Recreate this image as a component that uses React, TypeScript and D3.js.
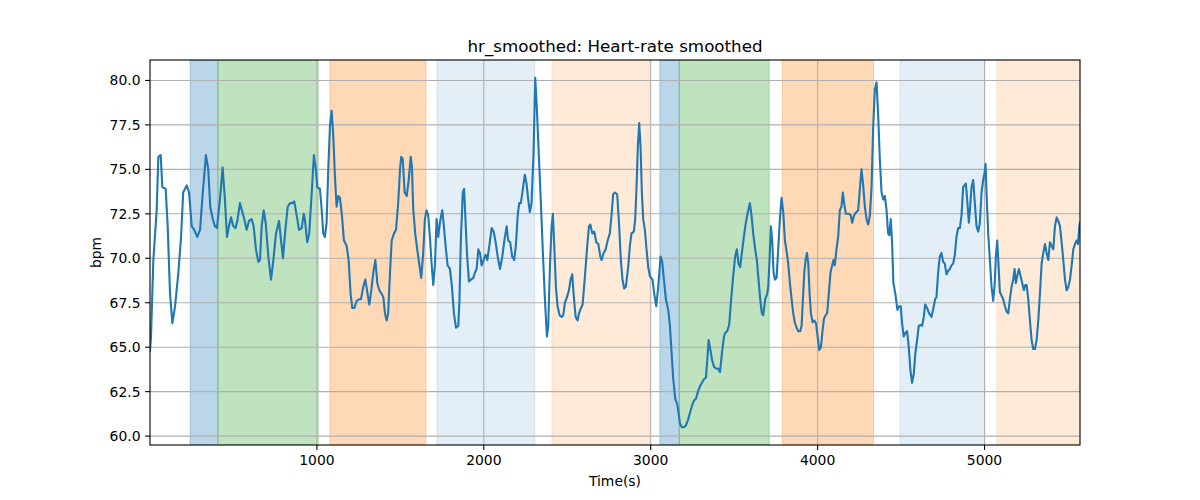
import * as d3 from 'd3'
import React from 'react'

// heart-rate samples (seconds, bpm)
const times = [
  0, 6, 20, 40, 50, 64, 74, 94, 106, 120, 134, 150, 170, 186, 199, 220, 234, 250, 265, 283,
  300, 313, 335, 349, 361, 376, 389, 401, 419, 435, 449, 461, 473, 485, 499, 513, 525, 539, 553, 565,
  579, 593, 609, 621, 635, 649, 659, 669, 681, 693, 709, 725, 739, 755, 773, 785, 797, 809, 825, 839,
  852, 864, 879, 893, 909, 921, 928, 942, 954, 969, 982, 994, 1002, 1018, 1028, 1038, 1048, 1058, 1068, 1078,
  1088, 1098, 1108, 1118, 1128, 1138, 1150, 1162, 1178, 1190, 1202, 1212, 1224, 1238, 1254, 1264, 1278, 1290, 1302, 1314,
  1326, 1338, 1350, 1362, 1374, 1388, 1398, 1408, 1418, 1427, 1438, 1448, 1462, 1474, 1487, 1498, 1505, 1514, 1526, 1538,
  1550, 1562, 1569, 1577, 1589, 1601, 1613, 1625, 1637, 1647, 1657, 1667, 1677, 1687, 1697, 1707, 1717, 1727, 1737, 1751,
  1761, 1771, 1783, 1797, 1809, 1821, 1833, 1847, 1854, 1862, 1874, 1882, 1890, 1899, 1911, 1923, 1937, 1947, 1957, 1967,
  1977, 1987, 1999, 2011, 2021, 2033, 2047, 2059, 2071, 2083, 2097, 2111, 2123, 2137, 2146, 2158, 2170, 2182, 2192, 2203,
  2212, 2222, 2234, 2246, 2256, 2266, 2276, 2286, 2298, 2308, 2318, 2330, 2342, 2354, 2366, 2378, 2386, 2396, 2406, 2414,
  2422, 2432, 2442, 2454, 2466, 2476, 2486, 2498, 2510, 2520, 2530, 2538, 2550, 2562, 2570, 2582, 2592, 2606, 2618, 2630,
  2638, 2650, 2662, 2674, 2686, 2698, 2706, 2718, 2730, 2742, 2755, 2766, 2775, 2785, 2799, 2811, 2821, 2831, 2841, 2851,
  2865, 2875, 2885, 2899, 2907, 2915, 2923, 2931, 2939, 2947, 2955, 2965, 2975, 2985, 2995, 3011, 3021, 3033, 3045, 3059,
  3069, 3079, 3091, 3105, 3115, 3125, 3135, 3147, 3159, 3167, 3175, 3187, 3199, 3211, 3223, 3235, 3247, 3259, 3271, 3283,
  3295, 3307, 3319, 3331, 3339, 3347, 3355, 3367, 3379, 3391, 3403, 3415, 3427, 3439, 3446, 3458, 3470, 3482, 3494, 3506,
  3516, 3526, 3536, 3546, 3558, 3570, 3582, 3594, 3604, 3614, 3626, 3636, 3646, 3656, 3666, 3674, 3686, 3698, 3704, 3712,
  3720, 3728, 3736, 3744, 3754, 3764, 3774, 3784, 3794, 3804, 3814, 3824, 3834, 3844, 3854, 3864, 3874, 3884, 3896, 3904,
  3912, 3920, 3928, 3936, 3944, 3952, 3960, 3970, 3980, 3990, 4000, 4010, 4020, 4028, 4038, 4048, 4057, 4067, 4077, 4087,
  4095, 4103, 4113, 4123, 4133, 4143, 4151, 4159, 4169, 4179, 4189, 4199, 4207, 4215, 4223, 4233, 4243, 4253, 4263, 4273,
  4283, 4293, 4303, 4313, 4323, 4333, 4343, 4353, 4363, 4373, 4383, 4393, 4403, 4413, 4422, 4430, 4438, 4446, 4454, 4466,
  4478, 4488, 4498, 4506, 4516, 4526, 4536, 4546, 4556, 4566, 4576, 4586, 4596, 4606, 4616, 4626, 4636, 4644, 4656, 4668,
  4682, 4694, 4704, 4712, 4722, 4732, 4742, 4752, 4762, 4772, 4782, 4792, 4802, 4812, 4822, 4832, 4842, 4852, 4862, 4872,
  4880, 4888, 4896, 4906, 4914, 4922, 4932, 4942, 4952, 4962, 4972, 4982, 4992, 5000, 5006, 5012, 5022, 5032, 5042, 5052,
  5060, 5068, 5076, 5084, 5092, 5102, 5112, 5122, 5132, 5142, 5152, 5162, 5172, 5180, 5188, 5196, 5206, 5216, 5226, 5236,
  5244, 5252, 5262, 5272, 5282, 5292, 5302, 5312, 5322, 5332, 5342, 5352, 5362, 5372, 5382, 5392, 5402, 5412, 5422, 5432,
  5442, 5452, 5462, 5472, 5482, 5492, 5502, 5512, 5522, 5532, 5542, 5552, 5560, 5568, 5572,
]
const hr = [
  64.8, 65.6, 69.9, 72.7, 75.7, 75.8, 74.0, 73.9, 71.8, 68.0, 66.35, 67.3, 69.2, 71.2, 73.7, 74.1, 73.7, 71.8, 71.6, 71.2,
  71.6, 73.3, 75.8, 75.0, 72.9, 72.2, 71.8, 71.7, 73.3, 75.1, 73.3, 71.2, 71.8, 72.3, 71.8, 71.7, 72.2, 73.1, 72.6, 72.2,
  71.6, 72.1, 72.2, 71.8, 70.5, 69.8, 69.9, 71.8, 72.7, 72.0, 70.1, 68.8, 69.9, 71.4, 72.1, 71.0, 70.0, 71.4, 72.9, 73.1,
  73.1, 73.2, 72.4, 71.6, 71.7, 72.5, 72.2, 70.9, 71.4, 73.7, 75.8, 75.0, 74.0, 73.9, 72.8, 71.4, 71.2, 72.0, 75.0, 77.4,
  78.3, 76.9, 74.6, 72.9, 73.5, 73.4, 72.4, 71.0, 70.7, 69.9, 68.0, 67.2, 67.2, 67.6, 67.7, 67.7, 68.4, 68.8, 68.1, 67.4,
  68.2, 69.2, 69.9, 68.6, 68.2, 68.0, 67.8, 66.9, 66.5, 66.9, 69.2, 71.0, 71.4, 71.6, 73.1, 75.0, 75.7, 75.6, 73.7, 73.5,
  74.4, 75.7, 75.2, 72.8, 71.4, 70.5, 69.7, 68.9, 70.3, 72.2, 72.7, 72.4, 71.2, 69.7, 68.5, 69.6, 72.2, 71.2, 72.0, 72.7,
  71.8, 70.7, 69.6, 69.4, 68.4, 66.9, 66.1, 66.2, 67.6, 70.9, 73.7, 73.9, 72.2, 70.3, 68.7, 68.8, 68.9, 69.2, 69.4, 70.5,
  70.3, 69.6, 69.9, 70.2, 69.9, 70.7, 71.7, 71.5, 70.9, 70.1, 69.4, 70.1, 71.0, 71.8, 71.0, 70.9, 70.1, 69.9, 70.7, 72.4,
  73.1, 73.1, 73.9, 74.7, 74.2, 73.3, 72.6, 73.1, 75.9, 80.15, 78.4, 75.7, 73.1, 70.3, 67.7, 65.6, 66.2, 69.5, 71.8, 72.5,
  70.7, 68.4, 67.3, 66.8, 66.7, 66.8, 67.5, 67.8, 68.2, 68.8, 69.1, 68.0, 66.7, 66.5, 66.9, 67.2, 67.4, 69.0, 70.5, 71.8,
  71.9, 71.4, 71.5, 70.9, 70.8, 70.1, 69.9, 70.3, 70.5, 71.0, 71.4, 72.5, 73.6, 73.7, 73.6, 71.8, 69.9, 68.8, 68.3, 68.4,
  69.5, 70.7, 71.4, 71.5, 72.2, 74.0, 76.3, 77.6, 76.3, 73.7, 72.2, 71.6, 70.5, 69.5, 69.0, 68.8, 68.0, 67.3, 68.4, 70.1,
  69.8, 68.8, 67.7, 67.1, 66.2, 64.7, 63.2, 62.1, 61.8, 61.3, 60.7, 60.5, 60.5, 60.6, 60.9, 61.3, 61.7, 62.0, 62.1, 62.5,
  62.8, 63.0, 63.2, 63.3, 64.3, 65.4, 65.0, 64.3, 63.9, 63.8, 63.8, 63.6, 64.7, 65.6, 65.8, 65.9, 66.25, 67.7, 69.0, 70.1,
  70.5, 69.7, 69.5, 70.3, 71.2, 72.0, 72.6, 73.1, 72.4, 71.4, 70.5, 69.9, 68.8, 67.7, 66.9, 66.8, 67.7, 68.0, 68.4, 69.9,
  71.8, 71.0, 69.2, 68.8, 68.9, 70.5, 72.2, 73.4, 72.6, 71.0, 70.4, 69.7, 68.6, 67.7, 66.9, 66.35, 66.1, 65.9, 65.9, 66.2,
  67.7, 69.2, 69.9, 70.3, 69.7, 68.0, 66.9, 66.4, 66.5, 66.35, 65.6, 64.85, 65.0, 65.8, 66.6, 66.8, 66.9, 68.0, 69.2, 69.6,
  69.9, 69.6, 70.5, 71.2, 72.7, 72.9, 73.7, 73.1, 72.5, 72.5, 72.5, 72.4, 72.0, 72.3, 72.5, 72.6, 72.7, 73.9, 75.0, 74.1,
  72.9, 72.2, 71.9, 72.4, 74.0, 77.4, 79.5, 79.9, 78.0, 75.5, 73.7, 73.3, 73.5, 72.7, 71.4, 71.3, 72.2, 70.9, 68.6, 68.0,
  67.1, 67.3, 67.3, 66.35, 65.6, 65.8, 65.9, 65.0, 63.7, 63.0, 63.5, 64.7, 65.4, 66.2, 66.25, 66.2, 66.7, 67.4, 67.2, 66.9,
  66.7, 67.2, 67.7, 67.8, 69.2, 70.1, 70.3, 69.8, 69.7, 69.1, 69.3, 69.4, 69.6, 69.7, 70.2, 71.2, 71.7, 71.7, 72.4, 74.0,
  74.1, 74.2, 73.3, 72.0, 72.9, 74.0, 74.4, 73.1, 71.8, 71.5, 72.0, 73.7, 74.4, 74.8, 75.3, 73.7, 71.4, 69.9, 68.4, 67.6,
  68.4, 70.1, 71.0, 69.6, 68.1, 67.9, 67.7, 67.3, 67.0, 66.9, 67.7, 68.4, 68.8, 69.4, 68.6, 69.0, 69.4, 69.0, 68.6, 68.2,
  68.5, 68.5, 67.7, 66.5, 65.4, 64.9, 64.9, 65.4, 66.5, 68.0, 69.7, 70.3, 70.8, 70.3, 69.9, 70.9, 70.7, 70.5, 71.8, 72.3,
  72.1, 71.8, 70.9, 69.9, 68.8, 68.2, 68.4, 68.8, 69.6, 70.5, 70.8, 71.0, 70.8, 71.8, 72.0,
]

// shaded segments
const spanStart = [240, 407, 1078, 1719, 2408, 3055, 3171, 3788, 4493, 5074]
const spanEnd = [407, 1008, 1653, 2306, 2995, 3171, 3710, 4335, 5002, 5600]
const spanColor = ['#1f77b4', '#2ca02c', '#ff7f0e', '#1f77b4', '#ff7f0e', '#1f77b4', '#2ca02c', '#ff7f0e', '#1f77b4', '#ff7f0e']
const spanAlpha = [0.3, 0.3, 0.3, 0.12, 0.16, 0.3, 0.3, 0.3, 0.12, 0.16]

const xTicks = [1000, 2000, 3000, 4000, 5000]
const yTicks = [60, 62.5, 65, 67.5, 70, 72.5, 75, 77.5, 80]

const W = 1200
const H = 500
const left = 150
const right = 1080
const top = 60
const bottom = 445
const font = 'DejaVu Sans, sans-serif'

export default function App() {
  const x = d3.scaleLinear().domain([0, 5572]).range([left, right])
  const y = d3.scaleLinear().domain([59.5, 81.15]).range([bottom, top])

  const pts = times.map((t, i) => [t, hr[i]] as [number, number])
  const line = d3.line<[number, number]>()
    .x(d => x(d[0]))
    .y(d => y(d[1]))

  return (
    <svg width={W} height={H} style={{ position: 'absolute', left: 0, top: 0, background: '#fff' }}>
      <defs>
        <clipPath id="plot">
          <rect x={left} y={top} width={right - left} height={bottom - top} />
        </clipPath>
      </defs>
      <g clipPath="url(#plot)">
        {spanStart.map((s, i) => (
          <rect
            key={i}
            x={x(s)}
            y={top}
            width={x(spanEnd[i]) - x(s)}
            height={bottom - top}
            fill={spanColor[i]}
            fillOpacity={spanAlpha[i]}
            stroke={spanColor[i]}
            strokeOpacity={spanAlpha[i]}
            strokeWidth={1}
          />
        ))}
        {xTicks.map(t => (
          <line key={t} x1={x(t)} x2={x(t)} y1={top} y2={bottom} stroke="#b0b0b0" strokeWidth={1.1} />
        ))}
        {yTicks.map(t => (
          <line key={t} x1={left} x2={right} y1={y(t)} y2={y(t)} stroke="#b0b0b0" strokeWidth={1.1} />
        ))}
        <path d={line(pts) || ''} fill="none" stroke="#1f77b4" strokeWidth={2.1} strokeLinejoin="round" strokeLinecap="square" />
      </g>
      <rect x={left} y={top} width={right - left} height={bottom - top} fill="none" stroke="#000" strokeWidth={1.1} />

      {xTicks.map(t => (
        <g key={t}>
          <line x1={x(t)} x2={x(t)} y1={bottom} y2={bottom + 4.9} stroke="#000" strokeWidth={1.1} />
          <text x={x(t)} y={bottom + 20} textAnchor="middle" fontFamily={font} fontSize={13.9} fill="#000">
            {t}
          </text>
        </g>
      ))}
      {yTicks.map(t => (
        <g key={t}>
          <line x1={left - 4.9} x2={left} y1={y(t)} y2={y(t)} stroke="#000" strokeWidth={1.1} />
          <text x={left - 9.5} y={y(t)} dy="0.36em" textAnchor="end" fontFamily={font} fontSize={13.9} fill="#000">
            {t.toFixed(1)}
          </text>
        </g>
      ))}

      <text x={(left + right) / 2} y={52} textAnchor="middle" fontFamily={font} fontSize={16.7} fill="#000">
        hr_smoothed: Heart-rate smoothed
      </text>
      <text x={(left + right) / 2} y={486} textAnchor="middle" fontFamily={font} fontSize={13.9} fill="#000">
        Time(s)
      </text>
      <text
        transform={`translate(${101},${(top + bottom) / 2}) rotate(-90)`}
        textAnchor="middle"
        fontFamily={font}
        fontSize={13.9}
        fill="#000"
      >
        bpm
      </text>
    </svg>
  )
}
